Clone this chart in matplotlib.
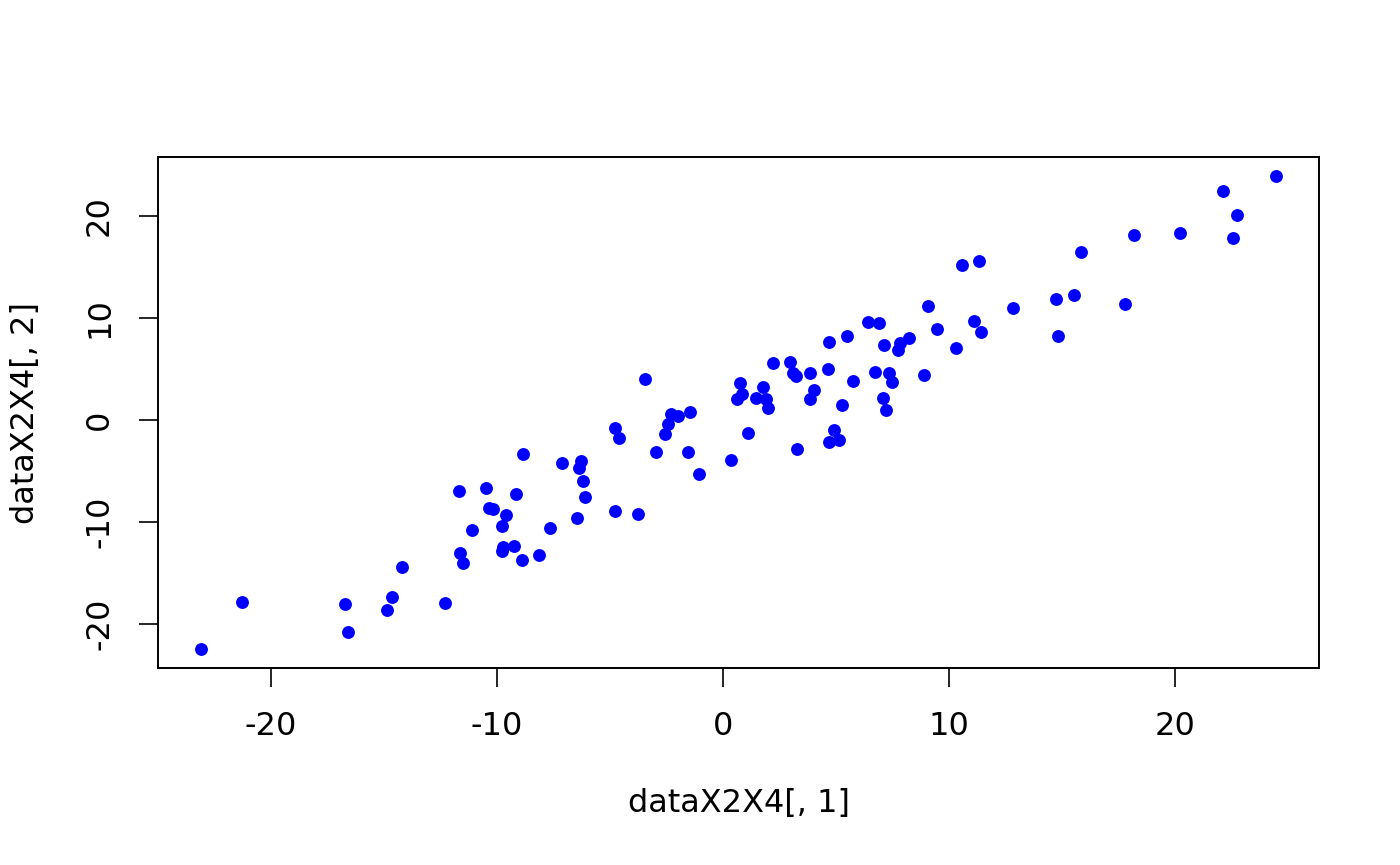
import numpy as np
import matplotlib.pyplot as plt

# values
x1 = [-23.09, -21.27, -16.74, -16.61, -14.65, -14.86, -14.22, -12.28, -11.68, -11.62,
      -11.51, -11.12, -10.48, -10.36, -10.17, -9.17, -9.61, -9.78, -9.72, -9.79,
      -9.25, -8.91, -8.86, -8.12, -7.67, -7.12, -6.30, -6.37, -6.21, -6.11,
      -6.48, -4.80, -3.77, -4.77, -4.59, -3.47, -2.98, -2.29, -1.97, -1.44,
      -2.44, -2.56, -1.54, -1.05, 0.36, 1.11, 0.76, 0.86, 0.64, 1.75,
      1.45, 1.92, 2.00, 2.19, 2.95, 3.09, 3.25, 3.85, 4.66, 4.03,
      3.84, 3.26, 4.90, 4.68, 5.15, 5.28, 5.77, 4.68, 5.50, 6.42,
      6.90, 6.71, 7.06, 7.23, 7.12, 7.33, 7.49, 7.81, 7.76, 8.24,
      8.89, 9.07, 9.45, 10.32, 10.59, 11.31, 11.09, 11.43, 12.83, 14.73,
      15.54, 14.84, 15.85, 17.78, 18.20, 20.23, 22.11, 22.75, 22.56, 24.46]
x2 = [-22.44, -17.82, -17.98, -20.75, -17.36, -18.60, -14.39, -17.91, -6.92, -13.03,
      -13.97, -10.74, -6.70, -8.59, -8.69, -7.25, -9.34, -10.38, -12.40, -12.86,
      -12.34, -13.74, -3.31, -13.25, -10.55, -4.19, -4.06, -4.71, -6.01, -7.55,
      -9.60, -8.95, -9.21, -0.77, -1.78, 3.99, -3.18, 0.61, 0.34, 0.73,
      -0.37, -1.39, -3.18, -5.30, -3.96, -1.29, 3.60, 2.52, 2.07, 3.18,
      2.10, 2.00, 1.15, 5.59, 5.65, 4.61, 4.25, 4.61, 4.94, 2.88,
      2.04, -2.89, -1.03, -2.17, -1.98, 1.49, 3.79, 7.65, 8.17, 9.57,
      9.50, 4.68, 2.14, 0.93, 7.32, 4.58, 3.67, 7.55, 6.80, 8.00,
      4.35, 11.17, 8.88, 7.02, 15.18, 15.60, 9.63, 8.56, 11.00, 11.81,
      12.18, 8.23, 16.48, 11.30, 18.14, 18.31, 22.38, 20.03, 17.78, 23.88]
ticks = [-20, -10, 0, 10, 20]

plt.rcParams['font.family'] = 'DejaVu Sans'

fig = plt.figure(figsize=(14, 8.65), dpi=100)
ax = fig.add_axes([0.1129, 0.2277, 0.8292, 0.5908])

ax.scatter(x1, x2, s=86, color='#0000FF', linewidths=0, zorder=3)
ax.margins(0.04)

ax.set_xticks(ticks)
ax.set_yticks(ticks)
ax.set_xticklabels([str(t) for t in ticks])
ax.set_yticklabels([str(t) for t in ticks], rotation=90, va='center')
ax.tick_params(length=14, width=1.2, labelsize=23, pad=17)

for s in ax.spines.values():
    s.set_linewidth(1.4)

ax.set_xlabel("dataX2X4[, 1]", fontsize=23, labelpad=33)
ax.set_ylabel("dataX2X4[, 2]", fontsize=23, labelpad=31)

fig.savefig("out.png", dpi=100)
